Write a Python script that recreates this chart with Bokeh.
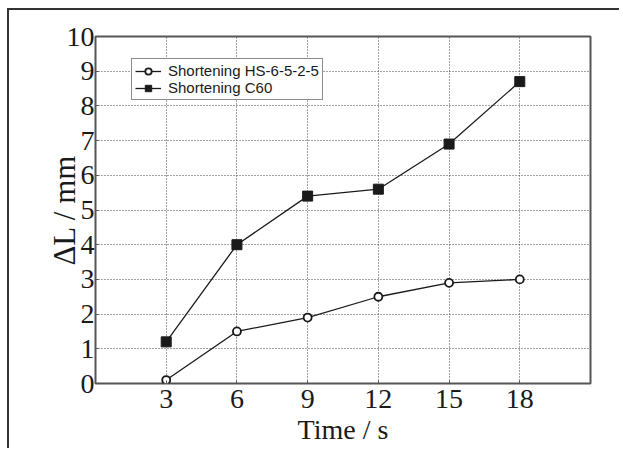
from bokeh.plotting import figure
from bokeh.models import FixedTicker, Legend, LegendItem, Range1d
from bokeh.embed import file_html
from bokeh.resources import INLINE

time_s = [3, 6, 9, 12, 15, 18]
hs_6_5_2_5 = [0.1, 1.5, 1.9, 2.5, 2.9, 3.0]
c60 = [1.2, 4.0, 5.4, 5.6, 6.9, 8.7]
x_ticks = [3, 6, 9, 12, 15, 18]
y_ticks = [0, 1, 2, 3, 4, 5, 6, 7, 8, 9, 10]
series_names = ["Shortening HS-6-5-2-5", "Shortening C60"]

p = figure(width=612, height=440, output_backend="svg", toolbar_location=None,
           x_range=Range1d(0, 21), y_range=Range1d(0, 10),
           min_border_left=86, min_border_top=26, min_border_right=31, min_border_bottom=67)
p.styles = {"border-left": "2px solid #333", "border-top": "2px solid #333",
            "margin-left": "7px", "margin-top": "8px"}

p.background_fill_color = "white"
p.border_fill_color = "white"
p.outline_line_color = "#555555"
p.outline_line_width = 2

for ax in (p.xaxis[0], p.yaxis[0]):
    ax.axis_line_color = None
    ax.major_tick_line_color = "#555555"
    ax.major_tick_in = 3
    ax.major_tick_out = 0
    ax.minor_tick_line_color = None
    ax.major_label_text_font = "Liberation Serif"
    ax.major_label_text_font_size = "28px"
    ax.major_label_text_color = "#1a1a1a"
    ax.axis_label_text_font = "Liberation Serif"
    ax.axis_label_text_font_style = "normal"
    ax.axis_label_text_color = "#1a1a1a"

p.xaxis.ticker = FixedTicker(ticks=x_ticks)
p.yaxis.ticker = FixedTicker(ticks=y_ticks)
p.xaxis.axis_label = "Time / s"
p.yaxis.axis_label = "ΔL / mm"
p.xaxis.axis_label_text_font_size = "28px"
p.yaxis.axis_label_text_font_size = "31px"
p.xaxis.major_label_standoff = 6
p.yaxis.major_label_standoff = 1
p.xaxis.axis_label_standoff = 3
p.yaxis.axis_label_standoff = -18

p.xgrid.ticker = FixedTicker(ticks=x_ticks)
p.ygrid.ticker = FixedTicker(ticks=y_ticks[1:-1])
for g in (p.xgrid[0], p.ygrid[0]):
    g.grid_line_color = "#444444"
    g.grid_line_dash = "1 2"
    g.grid_line_width = 1

l1 = p.line(time_s, hs_6_5_2_5, line_color="#1a1a1a", line_width=1.3)
s1 = p.scatter(time_s, hs_6_5_2_5, marker="circle", size=8, fill_color="white",
               line_color="#1a1a1a", line_width=1.8)
l2 = p.line(time_s, c60, line_color="#1a1a1a", line_width=1.3)
s2 = p.scatter(time_s, c60, marker="square", size=10, fill_color="#1a1a1a",
               line_color="#1a1a1a")

legend = Legend(items=[LegendItem(label=series_names[0], renderers=[l1, s1]),
                       LegendItem(label=series_names[1], renderers=[l2, s2])],
                location=(36, 283))
legend.label_text_font = "Liberation Sans"
legend.label_text_font_size = "15px"
legend.label_text_color = "#1a1a1a"
legend.border_line_color = "#1a1a1a"
legend.border_line_width = 1.5
legend.padding = 3
legend.spacing = 0
legend.margin = 0
legend.label_height = 16
legend.glyph_height = 16
legend.glyph_width = 26
legend.label_standoff = 7
legend.background_fill_alpha = 1
p.add_layout(legend, "center")

open("out.html", "w").write(file_html(p, INLINE))
